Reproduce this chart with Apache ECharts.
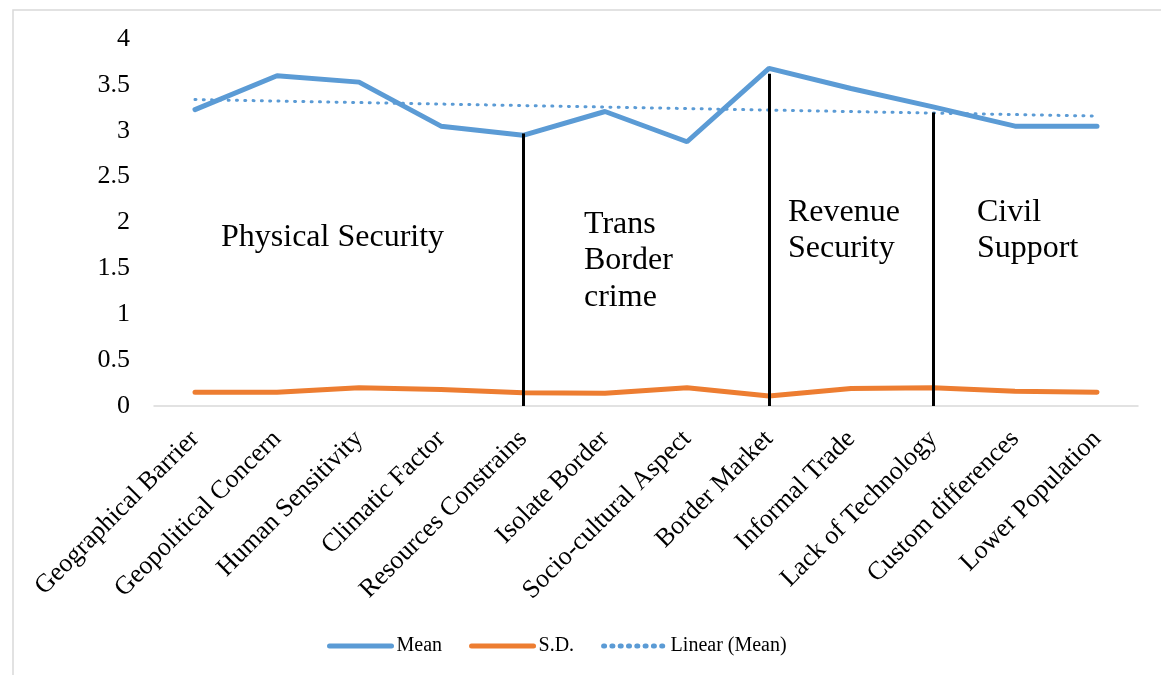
<!DOCTYPE html>
<html>
<head>
<meta charset="utf-8">
<script src="https://cdn.jsdelivr.net/npm/echarts@6/dist/echarts.min.js"></script>
<style>
  html, body { margin: 0; padding: 0; background: #fff; }
  #main { width: 1161px; height: 675px; }
</style>
</head>
<body>
<div id="main"></div>
<script>
// categories and values
const categories = ["Geographical Barrier", "Geopolitical Concern", "Human Sensitivity", "Climatic Factor",
  "Resources Constrains", "Isolate Border", "Socio-cultural Aspect", "Border Market",
  "Informal Trade", "Lack of Technology", "Custom differences", "Lower Population"];
const meanValues = [3.23, 3.60, 3.53, 3.05, 2.95, 3.21, 2.88, 3.68, 3.46, 3.26, 3.05, 3.05];
const sdValues = [0.15, 0.15, 0.20, 0.18, 0.145, 0.14, 0.20, 0.11, 0.19, 0.20, 0.16, 0.15];
// trend line end points (Linear (Mean))
const trendValues = [3.34, null, null, null, null, null, null, null, null, null, null, 3.16];
// vertical divider lines between the groups
const dividerIndex = [4, 7, 9];
const dividerTop = [2.97, 3.62, 3.20];
const yTicks = { min: 0, max: 4, interval: 0.5 };

const serif = "'Liberation Serif', 'DejaVu Serif', serif";

let chart = echarts.init(document.getElementById("main"));

let dividerLines = dividerIndex.map((idx, i) => [
  { coord: [idx, 0] },
  { coord: [idx, dividerTop[i]] }
]);

chart.setOption({
  animation: false,
  grid: { left: 154, right: 23, top: 39, bottom: 269 },
  legend: {
    top: 631,
    left: 322,
    itemWidth: 62,
    itemHeight: 12,
    itemGap: 27,
    itemStyle: { opacity: 0 },
    lineStyle: { width: 5 },
    textStyle: { fontFamily: serif, fontSize: 20, color: "#000" },
    data: ["Mean", "S.D.", "Linear (Mean)"]
  },
  xAxis: {
    type: "category",
    data: categories,
    boundaryGap: true,
    axisLine: { lineStyle: { color: "#d9d9d9", width: 1.5 } },
    axisTick: { show: false },
    axisLabel: {
      rotate: 45,
      interval: 0,
      margin: 29,
      fontFamily: serif,
      fontSize: 26,
      color: "#000"
    }
  },
  yAxis: {
    type: "value",
    min: yTicks.min,
    max: yTicks.max,
    interval: yTicks.interval,
    splitLine: { show: false },
    axisLine: { show: false },
    axisTick: { show: false },
    axisLabel: { fontFamily: serif, fontSize: 26, color: "#000", margin: 24 }
  },
  series: [
    {
      name: "Mean",
      type: "line",
      data: meanValues,
      symbol: "none",
      lineStyle: { color: "#5b9bd5", width: 5, cap: "round" },
      itemStyle: { color: "#5b9bd5" },
      z: 3
    },
    {
      name: "S.D.",
      type: "line",
      data: sdValues,
      symbol: "none",
      lineStyle: { color: "#ed7d31", width: 5, cap: "round" },
      itemStyle: { color: "#ed7d31" },
      z: 3
    },
    {
      name: "Linear (Mean)",
      type: "line",
      data: trendValues,
      connectNulls: true,
      symbol: "none",
      lineStyle: { color: "#5b9bd5", width: 3, type: [1, 7.3], cap: "round" },
      itemStyle: { color: "#5b9bd5" },
      z: 2,
      markLine: {
        silent: true,
        symbol: "none",
        label: { show: false },
        lineStyle: { color: "#000", width: 3, type: "solid" },
        data: dividerLines,
        z: 4
      }
    }
  ],
  graphic: [
    {
      type: "rect",
      shape: { x: 13, y: 10, width: 1200, height: 720 },
      style: { fill: "none", stroke: "#d9d9d9", lineWidth: 1.5 },
      silent: true
    },
    {
      type: "text", left: 221, top: 222,
      style: { text: "Physical Security", font: "32px " + serif, fill: "#000" }
    },
    {
      type: "text", left: 584, top: 206,
      style: { text: "Trans\nBorder\ncrime", font: "32px " + serif, fill: "#000", lineHeight: 36.5 }
    },
    {
      type: "text", left: 788, top: 194,
      style: { text: "Revenue\nSecurity", font: "32px " + serif, fill: "#000", lineHeight: 36.5 }
    },
    {
      type: "text", left: 977, top: 194,
      style: { text: "Civil\nSupport", font: "32px " + serif, fill: "#000", lineHeight: 36.5 }
    }
  ]
});
</script>
</body>
</html>
